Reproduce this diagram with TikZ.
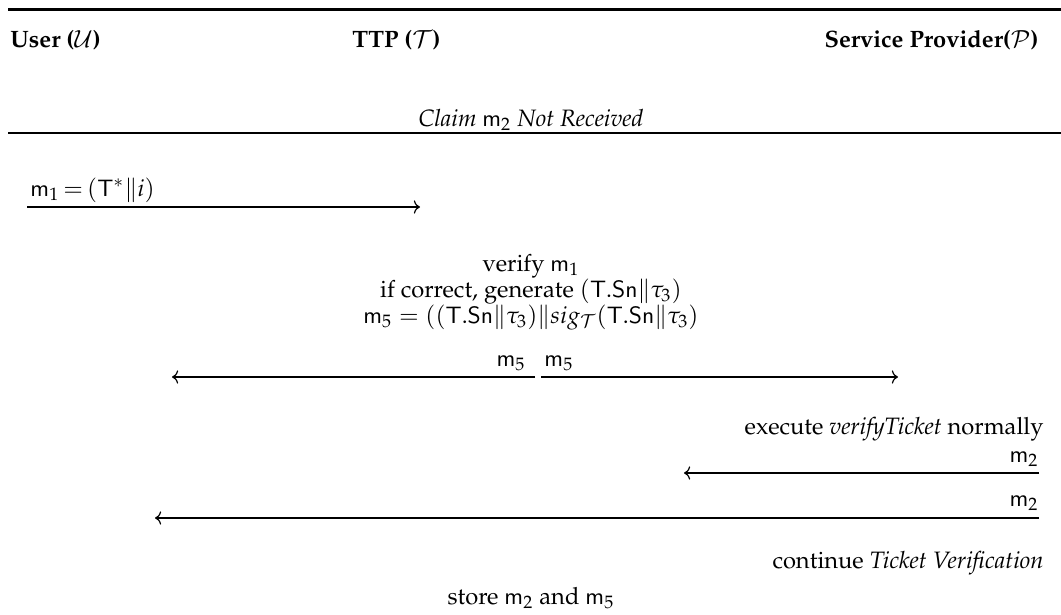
\documentclass[tikz,border=0pt]{standalone}
\usepackage[T1]{fontenc}
\usepackage{mathpazo}
\usepackage{amsmath}
\usetikzlibrary{positioning, arrows.meta}

\newcommand{\msgm}[1]{\mathsf{m}_{#1}}
\newcommand{\tsn}{\mathsf{T.Sn}\|\tau_3}

\tikzset{
  party/.style={anchor=base west, inner sep=0pt, font=\bfseries},
  action/.style={anchor=base, inner sep=0pt},
  msglbl/.style={inner sep=0pt},
  msgline/.style={-{To[length=2.6pt, width=5.6pt]}, line width=0.5pt},
}

\begin{document}
\begin{tikzpicture}[x=0.422pt, y=-0.422pt]
    \useasboundingbox (0,0) rectangle (1061,615);

    % Top rule of the table
    \coordinate (topL) at (8,9.5);
    \coordinate (topR) at (1061,9.5);
    \draw[line width=0.9pt] (topL) -- (topR);

    % The three parties
    \node[party] (user) at (10,47) {User ($\mathcal{U}$)};
    \node[party] (ttp) at (352,47) {TTP ($\mathcal{T}$)};
    \node[party, anchor=base east] (sp) at (1039,47) {Service Provider($\mathcal{P}$)};

    % Title of the sub protocol and rule below it
    \node[action] (claim) at (531,126) {\textit{Claim} $\msgm{2}$ \textit{Not Received}};
    \coordinate (midL) at (8,133);
    \coordinate (midR) at (1061,133);
    \draw[line width=0.5pt] (midL) -- (midR);

    % User sends m1 to the TTP
    \coordinate (m1start) at (27,207);
    \coordinate (m1end) at (420,207);
    \draw[msgline] (m1start) -- (m1end);
    \node[msglbl, anchor=base west] (m1lbl) at (30,196) {$\msgm{1}\,{=}\,(\mathsf{T}^*\|i)$};

    % TTP checks and builds m5
    \node[action] (verify) at (531,271) {verify $\msgm{1}$};
    \node[action] (gen) at (531,297) {if correct, generate $(\tsn)$};
    \node[action] (mfive) at (531,323) {$\msgm{5} = ((\tsn)\|sig_{\mathcal{T}}(\tsn)$};

    % m5 goes out to both the user and the provider
    \coordinate (m5Ustart) at (535,377);
    \coordinate (m5Uend) at (172,377);
    \draw[msgline] (m5Ustart) -- (m5Uend);
    \node[msglbl, anchor=base east] (m5Ulbl) at (526,366) {$\msgm{5}$};
    \coordinate (m5Pstart) at (541,377);
    \coordinate (m5Pend) at (898,377);
    \draw[msgline] (m5Pstart) -- (m5Pend);
    \node[msglbl, anchor=base west] (m5Plbl) at (544,366) {$\msgm{5}$};

    % Provider side
    \node[action, anchor=base east] (exec) at (1044,434) {execute \textit{verifyTicket} normally};
    \coordinate (m2Tstart) at (1039,473);
    \coordinate (m2Tend) at (684,473);
    \draw[msgline] (m2Tstart) -- (m2Tend);
    \node[msglbl, anchor=base east] (m2Tlbl) at (1039,462) {$\msgm{2}$};

    \coordinate (m2Ustart) at (1039,518);
    \coordinate (m2Uend) at (155,518);
    \draw[msgline] (m2Ustart) -- (m2Uend);
    \node[msglbl, anchor=base east] (m2Ulbl) at (1039,506) {$\msgm{2}$};

    \node[action, anchor=base east] (cont) at (1044,568) {continue \textit{Ticket Verification}};

    % TTP keeps both messages
    \node[action] (store) at (531,604) {store $\msgm{2}$ and $\msgm{5}$};
\end{tikzpicture}
\end{document}
